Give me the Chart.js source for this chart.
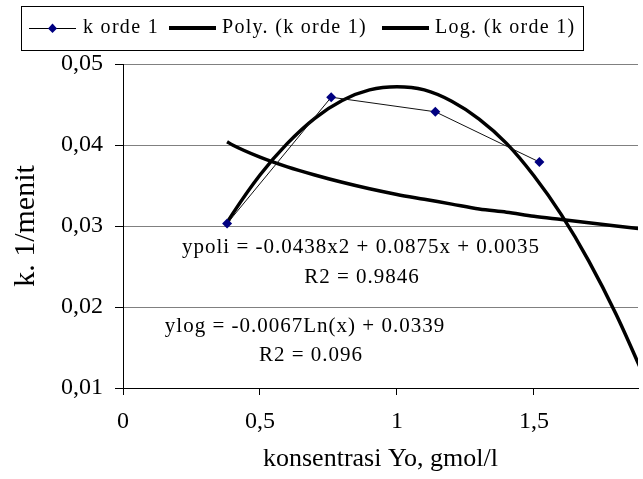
<!DOCTYPE html>
<html>
<head>
<meta charset="utf-8">
<script src="https://cdn.jsdelivr.net/npm/chart.js@4.4.1/dist/chart.umd.min.js"></script>
<style>
  html, body { margin: 0; padding: 0; background: #fff; }
  #wrap { width: 643px; height: 479px; }
</style>
</head>
<body>
<div id="wrap"><canvas id="chart" width="643" height="479"></canvas></div>
<script>
// measured points
const kX = [0.38, 0.76, 1.14, 1.52];
const kOrde1 = [0.0303, 0.0459, 0.0441, 0.0379];

// trend curves
const trendX = [0.38, 0.4, 0.5, 0.6, 0.7, 0.8, 0.9, 1.0, 1.1, 1.2, 1.3, 1.4, 1.5, 1.6, 1.7, 1.8, 1.9];
const polyK = [0.0304, 0.0315, 0.0363, 0.0402, 0.0433, 0.0455, 0.0468, 0.0472, 0.0468, 0.0454, 0.0432, 0.0402, 0.0362, 0.0314, 0.0257, 0.0191, 0.0116];
const logK = [0.0404, 0.0400, 0.0385, 0.0373, 0.0363, 0.0354, 0.0346, 0.0339, 0.0333, 0.0327, 0.0321, 0.0317, 0.0312, 0.0308, 0.0304, 0.0300, 0.0296];

const seriesNames = ['k orde 1', 'Poly. (k orde 1)', 'Log. (k orde 1)'];
const xTitle = 'konsentrasi Yo, gmol/l';
const yTitle = 'k. 1/menit';
const eqPoly = ['ypoli = -0.0438x2 + 0.0875x + 0.0035', 'R2 = 0.9846'];
const eqLog = ['ylog = -0.0067Ln(x) + 0.0339', 'R2 = 0.096'];

const FONT = "'Liberation Serif', 'Times New Roman', serif";
const toPts = (xs, ys) => xs.map((x, i) => ({ x: x, y: ys[i] }));
const comma = v => String(v).replace('.', ',');

// legend with a frame, drawn by hand like the excel one
const boxLegend = {
  id: 'boxLegend',
  afterDraw(chart) {
    const ctx = chart.ctx;
    ctx.save();
    ctx.strokeStyle = '#000';
    ctx.lineWidth = 1;
    ctx.strokeRect(21.5, 6.5, 562, 44);
    const y = 28;
    ctx.font = '20px ' + FONT;
    ctx.letterSpacing = '1.3px';
    ctx.fillStyle = '#000';
    ctx.textBaseline = 'middle';
    // k orde 1
    ctx.beginPath(); ctx.moveTo(29, y + 0.5); ctx.lineTo(76, y + 0.5); ctx.stroke();
    ctx.fillStyle = '#000080';
    ctx.beginPath(); ctx.moveTo(52.5, y - 4.5); ctx.lineTo(57, y + 0.5); ctx.lineTo(52.5, y + 5); ctx.lineTo(48, y + 0.5); ctx.closePath(); ctx.fill();
    ctx.fillStyle = '#000';
    ctx.fillText(seriesNames[0], 83, y);
    // thick lines
    ctx.lineWidth = 4;
    ctx.beginPath(); ctx.moveTo(169, y); ctx.lineTo(216, y); ctx.stroke();
    ctx.fillText(seriesNames[1], 222, y);
    ctx.beginPath(); ctx.moveTo(382, y); ctx.lineTo(429, y); ctx.stroke();
    ctx.fillText(seriesNames[2], 435, y);
    ctx.restore();
  }
};

// trendline equation labels
const eqLabels = {
  id: 'eqLabels',
  afterDatasetsDraw(chart) {
    const ctx = chart.ctx;
    ctx.save();
    ctx.font = '21px ' + FONT;
    ctx.letterSpacing = '1px';
    ctx.fillStyle = '#000';
    ctx.textAlign = 'center';
    ctx.textBaseline = 'middle';
    ctx.fillText(eqPoly[0], 361, 247);
    ctx.fillText(eqPoly[1], 362, 277);
    ctx.fillText(eqLog[0], 305, 326);
    ctx.fillText(eqLog[1], 311, 355);
    ctx.restore();
  }
};

new Chart(document.getElementById('chart'), {
  type: 'scatter',
  data: {
    datasets: [
      {
        label: seriesNames[0],
        data: toPts(kX, kOrde1),
        showLine: true,
        borderColor: '#111',
        borderWidth: 1,
        pointStyle: 'rectRot',
        pointRadius: 5,
        pointBackgroundColor: '#000080',
        pointBorderColor: '#000080',
        pointBorderWidth: 0
      },
      {
        label: seriesNames[1],
        data: toPts(trendX, polyK),
        showLine: true,
        borderColor: '#000',
        borderWidth: 3.5,
        pointRadius: 0,
        cubicInterpolationMode: 'monotone'
      },
      {
        label: seriesNames[2],
        data: toPts(trendX, logK),
        showLine: true,
        borderColor: '#000',
        borderWidth: 3.5,
        pointRadius: 0,
        cubicInterpolationMode: 'monotone'
      }
    ]
  },
  options: {
    responsive: false,
    animation: false,
    devicePixelRatio: 1,
    layout: { padding: { top: 64, left: 0, right: 0, bottom: 0 } },
    plugins: {
      legend: { display: false },
      tooltip: { enabled: false }
    },
    scales: {
      x: {
        type: 'linear',
        min: 0,
        max: 1.88,
        afterFit: s => { s.height = 91; },
        border: { color: '#000', width: 1 },
        grid: { drawOnChartArea: false, drawTicks: true, tickLength: 7, tickColor: '#000' },
        ticks: {
          stepSize: 0.5,
          includeBounds: false,
          color: '#000',
          font: { family: FONT, size: 24 },
          padding: 12,
          callback: v => comma(v)
        },
        title: {
          display: true,
          text: xTitle,
          color: '#000',
          font: { family: FONT, size: 26 },
          padding: { top: 0 }
        }
      },
      y: {
        min: 0.01,
        max: 0.05,
        afterFit: s => { s.width = 123; },
        border: { color: '#000', width: 1 },
        grid: { color: '#808080', tickColor: '#000', tickLength: 8 },
        ticks: {
          stepSize: 0.01,
          color: '#000',
          font: { family: FONT, size: 24 },
          padding: 12,
          callback: v => comma(v.toFixed(2))
        },
        title: {
          display: true,
          text: yTitle,
          color: '#000',
          font: { family: FONT, size: 30 },
          padding: { top: 8, bottom: 0 }
        }
      }
    }
  },
  plugins: [boxLegend, eqLabels]
});
</script>
</body>
</html>
